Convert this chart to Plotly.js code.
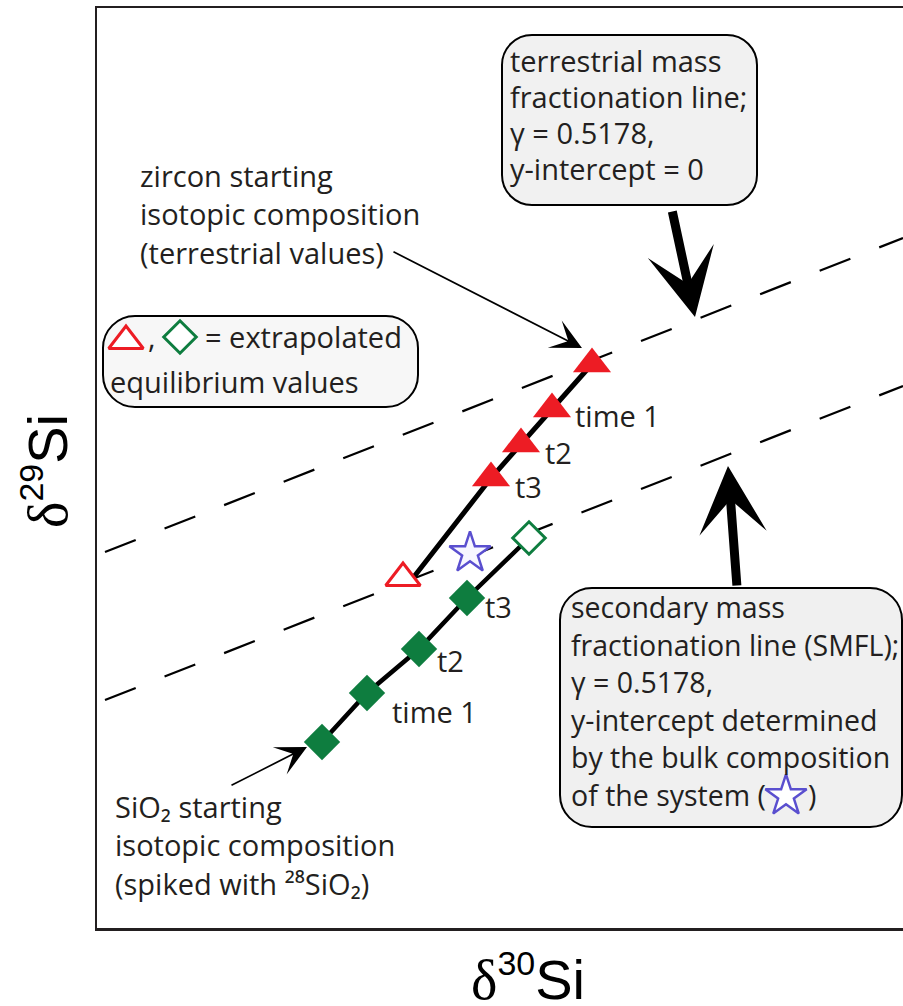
<!DOCTYPE html>
<html>
<head>
<meta charset="utf-8">
<script src="https://cdn.plot.ly/plotly-3.0.1.min.js"></script>
<style>
html,body{margin:0;padding:0;background:#ffffff;}
#chart{width:903px;height:1006px;}
</style>
</head>
<body>
<div id="chart"></div>
<script>
// ---------- data (schematic δ30Si / δ29Si space, arbitrary units) ----------
const tmflX = [8, 806];            // terrestrial mass fractionation line
const tmflY = [376, 690];
const smflX = [8, 806];            // secondary mass fractionation line
const smflY = [228, 542];

const zirconX = [495, 455, 424, 394];      // zircon compositions: start, time 1, t2, t3
const zirconY = [564, 519, 484, 450];
const zirconPathX = [495, 455, 424, 394, 316];
const zirconPathY = [564, 519, 484, 450, 350];
const zirconEqX = [306];                   // extrapolated equilibrium (zircon)
const zirconEqY = [350];
const zirconLabels = ['', 'time 1', 't2', 't3'];

const quartzX = [225, 270, 322, 370];      // SiO2 compositions: start, time 1, t2, t3
const quartzY = [186, 235, 279, 330];
const quartzPathX = [225, 270, 322, 370, 432];
const quartzPathY = [186, 235, 279, 330, 390];
const quartzEqX = [432];                   // extrapolated equilibrium (SiO2)
const quartzEqY = [390];
const quartzLabels = ['', 'time 1', 't2', 't3'];

const bulkX = [373];                       // bulk composition of the system
const bulkY = [375];

// ---------- text ----------
const tmflNote = ['terrestrial mass', 'fractionation line;', 'γ = 0.5178,', 'y-intercept = 0'];
const smflNote = ['secondary mass', 'fractionation line (SMFL);', 'γ = 0.5178,',
                  'y-intercept determined', 'by the bulk composition', 'of the system ('];
const zirconNote = ['zircon starting', 'isotopic composition', '(terrestrial values)'];
const quartzNote = ['SiO₂ starting', 'isotopic composition', '(spiked with ²⁸SiO₂)'];
const keyNote = ['= extrapolated', 'equilibrium values'];
const xTitle = '<span style="font-family:Liberation Serif">δ</span><sup><span style="font-size:34px">30</span></sup>Si';
const yTitle = '<span style="font-family:Liberation Serif">δ</span><sup><span style="font-size:34px">29</span></sup>Si';

// ---------- styling ----------
const RED = '#ed1c24', GREEN = '#0e7d3f', PURPLE = '#5a4fcf', INK = '#231f20';
const FONT = 'Open Sans, Noto Sans, sans-serif';
const FS = 29;

// picture position -> axis units (1 unit = 1 px here)
const L = 97, B = 928;
const X = px => px - L;
const Y = py => B - py;

const traces = [
  {x: tmflX, y: tmflY, mode: 'lines', line: {color: '#000', width: 2.2, dash: '33px,31px'}, hoverinfo: 'skip'},
  {x: smflX, y: smflY, mode: 'lines', line: {color: '#000', width: 2.2, dash: '33px,31px'}, hoverinfo: 'skip'},
  {x: zirconPathX, y: zirconPathY, mode: 'lines', line: {color: '#000', width: 5}},
  {x: quartzPathX, y: quartzPathY, mode: 'lines', line: {color: '#000', width: 4.5}},
  {x: zirconX, y: zirconY, mode: 'markers', marker: {symbol: 'triangle-up', size: 33, color: RED, line: {width: 0}}},
  {x: zirconEqX, y: zirconEqY, mode: 'markers', marker: {symbol: 'triangle-up', size: 30, color: '#fff', line: {color: RED, width: 3}}},
  {x: quartzX, y: quartzY, mode: 'markers', marker: {symbol: 'diamond', size: 28, color: GREEN, line: {width: 0}}},
  {x: quartzEqX, y: quartzEqY, mode: 'markers', marker: {symbol: 'diamond', size: 25, color: '#fff', line: {color: GREEN, width: 3}}},
  {x: bulkX, y: bulkY, mode: 'markers', marker: {symbol: 'star', size: 31, color: '#f7f7ff', line: {color: PURPLE, width: 2.5}}},
  // key glyphs inside the callouts
  {x: [X(126)], y: [Y(341)], mode: 'markers', marker: {symbol: 'triangle-up', size: 30, color: '#fff', line: {color: RED, width: 3}}},
  {x: [X(180)], y: [Y(337)], mode: 'markers', marker: {symbol: 'diamond', size: 25, color: '#fff', line: {color: GREEN, width: 3}}},
  {x: [X(786)], y: [Y(796)], mode: 'markers', marker: {symbol: 'star', size: 31, color: '#fff', line: {color: PURPLE, width: 2.5}}}
];

function roundRect(x0, y0, x1, y1, r) {
  // picture pixels in, axis-unit path out
  const a = X(x0), b = X(x1), top = Y(y0), bot = Y(y1), k = r * 0.4477;
  return `M${a + r},${top} L${b - r},${top} C${b - k},${top} ${b},${top - k} ${b},${top - r} ` +
         `L${b},${bot + r} C${b},${bot + k} ${b - k},${bot} ${b - r},${bot} ` +
         `L${a + r},${bot} C${a + k},${bot} ${a},${bot + k} ${a},${bot + r} ` +
         `L${a},${top - r} C${a},${top - k} ${a + k},${top} ${a + r},${top} Z`;
}

const shapes = [
  {type: 'path', path: roundRect(502, 35, 757, 205, 30), xref: 'x', yref: 'y', fillcolor: '#f1f1f1', line: {color: '#000', width: 2}, layer: 'below'},
  {type: 'path', path: roundRect(103, 316, 418, 407, 32), xref: 'x', yref: 'y', fillcolor: '#f7f7f7', line: {color: '#000', width: 2}, layer: 'below'},
  {type: 'path', path: roundRect(560, 588, 902, 827, 32), xref: 'x', yref: 'y', fillcolor: '#f0f0f0', line: {color: '#000', width: 2}, layer: 'below'}
];

const annotations = [];
function txt(px, py, text, extra) {
  annotations.push(Object.assign({
    x: X(px), y: Y(py), xref: 'x', yref: 'y', text: text, showarrow: false,
    xanchor: 'left', yanchor: 'middle', align: 'left',
    font: {family: FONT, size: FS, color: INK}
  }, extra || {}));
}
function block(lines, px, py, step, size) {
  lines.forEach((t, i) => txt(px, py + i * step, t, size ? {font: {family: FONT, size: size, color: INK}} : null));
}
block(tmflNote, 508, 60, 36);
block(smflNote, 569, 607, 37.6, 28.5);
txt(806, 795, ')', {font: {family: FONT, size: 28.5, color: INK}});
block(zirconNote, 138, 175, 38.5);
block(quartzNote, 113, 806, 38.5);
txt(203, 336, keyNote[0]);
txt(108, 381, keyNote[1]);
txt(146, 336, ',');

// point labels, anchored to their data points
const zShift = [null, [21, -6], [22, -8], [22, -8]];
zirconLabels.forEach((t, i) => {
  if (!t) return;
  annotations.push({x: zirconX[i], y: zirconY[i], xref: 'x', yref: 'y', text: t, showarrow: false,
    xanchor: 'left', yanchor: 'middle', xshift: zShift[i][0], yshift: zShift[i][1],
    font: {family: FONT, size: FS, color: INK}});
});
const qShift = [null, [23, -18], [16, -11], [16, -8]];
quartzLabels.forEach((t, i) => {
  if (!t) return;
  annotations.push({x: quartzX[i], y: quartzY[i], xref: 'x', yref: 'y', text: t, showarrow: false,
    xanchor: 'left', yanchor: 'middle', xshift: qShift[i][0], yshift: qShift[i][1],
    font: {family: FONT, size: FS, color: INK}});
});

// arrows
function arrow(tx, ty, hx, hy, w, size) {
  annotations.push({x: X(hx), y: Y(hy), ax: X(tx), ay: Y(ty), xref: 'x', yref: 'y', axref: 'x', ayref: 'y',
    text: '', showarrow: true, arrowhead: 3, arrowwidth: w, arrowsize: size, arrowcolor: '#000', standoff: 0});
}
arrow(672, 210, 695, 317, 9, 1.25);
arrow(737, 587, 728, 466, 9, 1.25);
arrow(392, 251, 582, 348, 1.7, 3);
arrow(230, 786, 307, 747, 1.7, 3);

// axis titles
annotations.push({xref: 'paper', yref: 'paper', x: (528 - L) / 806, y: (B - 977) / 920, text: xTitle,
  showarrow: false, xanchor: 'center', yanchor: 'middle', font: {family: 'Liberation Sans, Arial, sans-serif', size: 56, color: '#000'}});
annotations.push({xref: 'paper', yref: 'paper', x: (45 - L) / 806, y: (B - 471) / 920, text: yTitle, textangle: -90,
  showarrow: false, xanchor: 'center', yanchor: 'middle', font: {family: 'Liberation Sans, Arial, sans-serif', size: 56, color: '#000'}});

const axisBase = {showgrid: false, zeroline: false, showticklabels: false, ticks: '', showline: true,
  linecolor: '#231f20', linewidth: 2.5, fixedrange: true, autorange: false};

const layout = {
  width: 903, height: 1006,
  margin: {l: 97, r: 0, t: 8, b: 78, pad: 0},
  paper_bgcolor: '#ffffff', plot_bgcolor: '#ffffff',
  showlegend: false,
  xaxis: Object.assign({}, axisBase, {range: [0, 806], mirror: true}),
  yaxis: Object.assign({}, axisBase, {range: [0, 920], mirror: false}),
  shapes: shapes,
  annotations: annotations
};

Plotly.newPlot('chart', traces, layout, {staticPlot: true, displayModeBar: false});
</script>
</body>
</html>
